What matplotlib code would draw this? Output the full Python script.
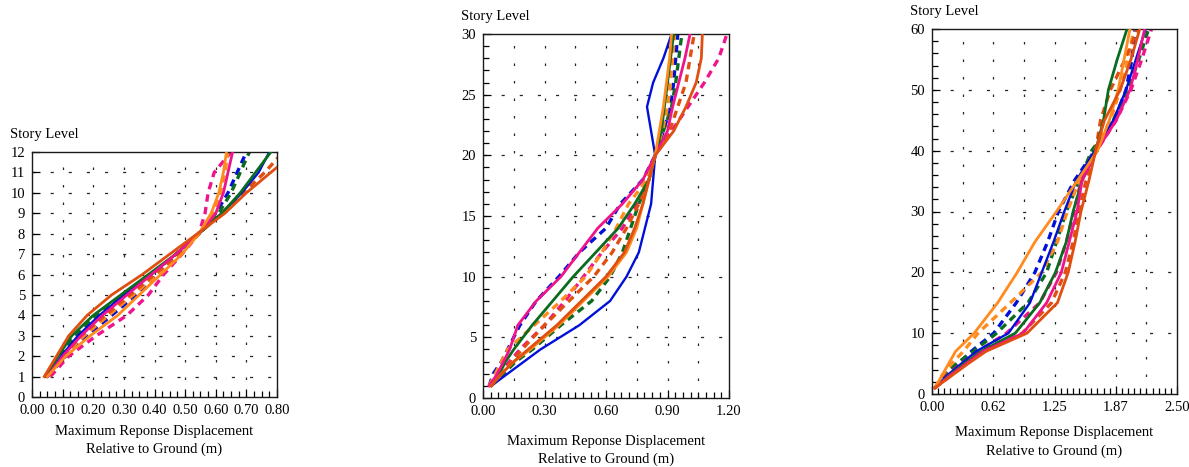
import numpy as np
import matplotlib
matplotlib.use("Agg")
import matplotlib.pyplot as plt

plt.rcParams['font.family'] = ['Liberation Serif', 'DejaVu Serif']

# ---- data: story level vs max displacement (m) ----
# 12-story building
lv12 = [1, 2, 3, 4, 5, 6, 7, 8, 9, 10, 11, 12]
b12 = {
    "blue":        [0.05, 0.095, 0.15, 0.22, 0.30, 0.39, 0.47, 0.545, 0.62, 0.685, 0.74, 0.775],
    "blue_d":      [0.05, 0.11, 0.18, 0.26, 0.34, 0.41, 0.48, 0.545, 0.60, 0.64, 0.67, 0.70],
    "green":       [0.045, 0.085, 0.13, 0.20, 0.29, 0.38, 0.47, 0.545, 0.62, 0.68, 0.73, 0.78],
    "green_d":     [0.045, 0.09, 0.14, 0.21, 0.30, 0.39, 0.47, 0.545, 0.61, 0.65, 0.68, 0.71],
    "pink":        [0.05, 0.10, 0.16, 0.23, 0.31, 0.39, 0.47, 0.545, 0.60, 0.625, 0.64, 0.655],
    "pink_d":      [0.06, 0.12, 0.21, 0.31, 0.38, 0.43, 0.49, 0.545, 0.565, 0.575, 0.595, 0.65],
    "orange":      [0.05, 0.11, 0.19, 0.28, 0.35, 0.42, 0.49, 0.545, 0.585, 0.61, 0.625, 0.635],
    "orange_d":    [0.05, 0.10, 0.17, 0.25, 0.33, 0.41, 0.48, 0.545, 0.59, 0.615, 0.63, 0.64],
    "red":         [0.04, 0.08, 0.12, 0.18, 0.26, 0.36, 0.45, 0.54, 0.63, 0.70, 0.78, 0.86],
    "red_d":       [0.05, 0.10, 0.16, 0.24, 0.32, 0.40, 0.48, 0.545, 0.62, 0.69, 0.76, 0.82],
}

# 30-story building
lv30 = [1, 2, 3, 4, 6, 8, 10, 12, 14, 16, 18, 20, 22, 24, 26, 28, 30]
b30 = {
    "blue":     [0.04, 0.12, 0.20, 0.28, 0.47, 0.62, 0.70, 0.76, 0.79, 0.82, 0.83, 0.84, 0.82, 0.80, 0.83, 0.88, 0.92],
    "blue_d":   [0.03, 0.05, 0.09, 0.12, 0.18, 0.26, 0.37, 0.47, 0.60, 0.67, 0.78, 0.84, 0.88, 0.915, 0.93, 0.94, 0.95],
    "green":    [0.04, 0.08, 0.11, 0.15, 0.24, 0.34, 0.44, 0.55, 0.66, 0.74, 0.81, 0.84, 0.87, 0.885, 0.90, 0.915, 0.93],
    "green_d":  [0.04, 0.10, 0.16, 0.24, 0.38, 0.53, 0.62, 0.68, 0.72, 0.76, 0.81, 0.84, 0.88, 0.92, 0.94, 0.955, 0.97],
    "pink":     [0.03, 0.07, 0.10, 0.13, 0.17, 0.26, 0.38, 0.47, 0.56, 0.68, 0.78, 0.84, 0.90, 0.925, 0.955, 0.985, 1.01],
    "pink_d":   [0.04, 0.08, 0.13, 0.18, 0.30, 0.40, 0.49, 0.58, 0.68, 0.75, 0.81, 0.84, 0.92, 1.00, 1.08, 1.15, 1.19],
    "orange":   [0.04, 0.09, 0.15, 0.23, 0.37, 0.49, 0.61, 0.70, 0.75, 0.78, 0.81, 0.84, 0.86, 0.88, 0.895, 0.91, 0.92],
    "orange_d": [0.03, 0.06, 0.09, 0.12, 0.25, 0.38, 0.50, 0.58, 0.65, 0.71, 0.80, 0.84, 0.875, 0.90, 0.915, 0.925, 0.935],
    "red":      [0.04, 0.09, 0.15, 0.22, 0.36, 0.48, 0.60, 0.69, 0.74, 0.78, 0.81, 0.84, 0.93, 0.99, 1.04, 1.065, 1.07],
    "red_d":    [0.04, 0.09, 0.14, 0.19, 0.30, 0.42, 0.54, 0.63, 0.70, 0.76, 0.81, 0.84, 0.91, 0.95, 0.99, 1.01, 1.03],
}

# 60-story building
lv60 = [1, 3, 5, 7, 10, 15, 20, 25, 30, 35, 40, 45, 50, 55, 60]
b60 = {
    "blue":     [0.03, 0.15, 0.30, 0.45, 0.78, 1.00, 1.12, 1.24, 1.35, 1.47, 1.66, 1.85, 1.98, 2.08, 2.18],
    "blue_d":   [0.03, 0.13, 0.27, 0.40, 0.63, 0.86, 1.05, 1.18, 1.29, 1.45, 1.66, 1.86, 1.98, 2.04, 2.07],
    "green":    [0.03, 0.17, 0.33, 0.50, 0.85, 1.10, 1.26, 1.37, 1.44, 1.53, 1.67, 1.75, 1.80, 1.89, 1.99],
    "green_d":  [0.03, 0.12, 0.25, 0.42, 0.66, 0.98, 1.17, 1.27, 1.37, 1.50, 1.63, 1.85, 2.00, 2.11, 2.21],
    "pink":     [0.03, 0.18, 0.35, 0.52, 0.93, 1.17, 1.32, 1.40, 1.48, 1.53, 1.68, 1.88, 2.02, 2.10, 2.17],
    "pink_d":   [0.03, 0.15, 0.30, 0.47, 0.76, 1.10, 1.27, 1.37, 1.45, 1.52, 1.68, 1.88, 2.03, 2.14, 2.24],
    "orange":   [0.03, 0.10, 0.17, 0.24, 0.43, 0.67, 0.87, 1.05, 1.27, 1.48, 1.69, 1.81, 1.90, 1.96, 2.02],
    "orange_d": [0.03, 0.10, 0.20, 0.32, 0.47, 0.80, 1.12, 1.28, 1.38, 1.50, 1.66, 1.82, 1.92, 2.00, 2.06],
    "red":      [0.03, 0.20, 0.37, 0.55, 0.97, 1.28, 1.39, 1.46, 1.52, 1.60, 1.67, 1.76, 1.92, 2.03, 2.12],
    "red_d":    [0.03, 0.19, 0.35, 0.52, 0.92, 1.22, 1.36, 1.44, 1.50, 1.57, 1.67, 1.72, 1.82, 1.97, 2.10],
}

colors = {
    "blue": "#0010D8",
    "green": "#0B6B1E",
    "pink": "#F0148C",
    "orange": "#FF8A1E",
    "red": "#E04E10",
}

W, H = 1189, 467
fig = plt.figure(figsize=(W / 100, H / 100), dpi=100)


def px_axes(x0, y0, x1, y1):
    # pixel box (top-left origin) -> figure fraction
    return fig.add_axes([x0 / W, (H - y1) / H, (x1 - x0) / W, (y1 - y0) / H])


def draw_panel(ax, levels, series, xmax, ymax, xlabels_step, grid_dx, grid_dy,
               xminor, yminor):
    # dashed sparse grid
    for gx in np.arange(grid_dx, xmax - 1e-9, grid_dx):
        ax.axvline(gx, color="0.15", lw=0.9, ls=(0, (2, 12)), zorder=0)
    for gy in np.arange(grid_dy, ymax - 1e-9, grid_dy):
        ax.axhline(gy, color="0.15", lw=0.9, ls=(0, (2.5, 12)), zorder=0)

    for key, vals in series.items():
        base = key.replace("_d", "")
        c = colors[base]
        if key.endswith("_d"):
            ax.plot(vals, levels, color=c, lw=2.4, ls=(0, (2.2, 1.6)), zorder=2)
        else:
            ax.plot(vals, levels, color=c, lw=2.0 if base != "blue" else 1.7, zorder=3)

    ax.set_xlim(0, xmax)
    ax.set_ylim(0, ymax)
    xt = np.arange(0, xmax + 1e-9, xlabels_step)
    ax.set_xticks(xt)
    ax.set_xticklabels([f"{v:.2f}" for v in xt])
    ax.set_xticks(np.arange(0, xmax + 1e-9, xminor), minor=True)
    if yminor:
        ax.set_yticks(np.arange(0, ymax + 1e-9, yminor), minor=True)
    ax.tick_params(which="both", direction="in", top=False, right=False,
                   labelsize=10.5, width=0.9, pad=5)
    ax.tick_params(which="major", length=6)
    ax.tick_params(which="minor", length=4)
    for sp in ax.spines.values():
        sp.set_linewidth(1.0)
        sp.set_color("0.1")
    ax.annotate("Story Level", xy=(0, 1), xycoords="axes fraction",
                xytext=(-22, 11), textcoords="offset pixels", fontsize=10.5,
                ha="left", va="bottom")


xlab = "Maximum Reponse Displacement\nRelative to Ground (m)"

ax1 = px_axes(32, 152, 277, 397)
draw_panel(ax1, lv12, b12, 0.80, 12, 0.10, 0.10, 1, 0.025, None)
ax1.set_yticks(range(0, 13))
ax1.set_xlabel(xlab, fontsize=10.5, linespacing=1.45, labelpad=6)

ax2 = px_axes(483, 34, 729, 398)
draw_panel(ax2, lv30, b30, 1.20, 30, 0.30, 0.15, 5, 0.0375, 1)
ax2.set_yticks(range(0, 31, 5))
ax2.set_xlabel(xlab, fontsize=10.5, linespacing=1.45, labelpad=12)

ax3 = px_axes(932, 29, 1177, 394)
draw_panel(ax3, lv60, b60, 2.50, 60, 0.625, 0.3125, 10, 0.0625, 2)
ax3.set_yticks(range(0, 61, 10))
ax3.set_xticklabels(["0.00", "0.62", "1.25", "1.87", "2.50"])
ax3.set_xlabel(xlab, fontsize=10.5, linespacing=1.45, labelpad=9)

fig.savefig("out.png", dpi=100)
